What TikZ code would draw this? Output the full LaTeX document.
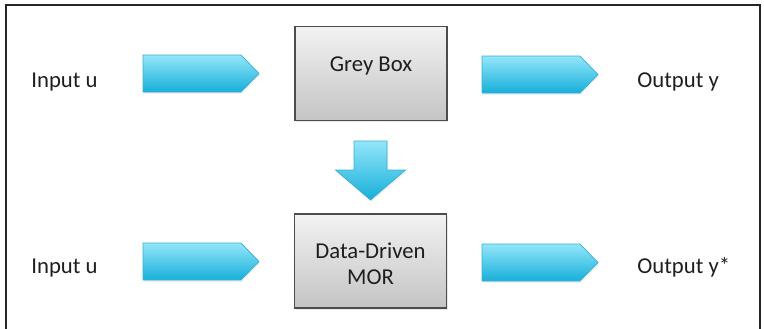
\documentclass[tikz,border=0pt]{standalone}
\usepackage{fontspec}
\setmainfont{Carlito}
\usetikzlibrary{shadows}

\definecolor{flowtop}{HTML}{93E6F9}
\definecolor{flowbot}{HTML}{17AFDA}
\definecolor{flowline}{HTML}{3AAFD2}
\definecolor{boxtop}{HTML}{F2F2F2}
\definecolor{boxbot}{HTML}{C4C4C4}
\definecolor{inkgrey}{HTML}{1E1E1E}

\tikzset{
  frame/.style={draw=black!85, line width=1pt},
  block/.style={draw=black!70, line width=0.55pt, top color=boxtop, bottom color=boxbot,
    minimum width=76pt, minimum height=47pt, inner sep=0pt,
    drop shadow={opacity=0.18, shadow xshift=0.6pt, shadow yshift=-0.8pt}},
  txt/.style={font=\fontsize{11.35}{13}\selectfont, text=inkgrey, inner sep=0pt},
  flow/.style={draw=flowline, line width=0.35pt, top color=flowtop, bottom color=flowbot,
    drop shadow={opacity=0.12, shadow xshift=0.5pt, shadow yshift=-0.9pt}},
  pics/flowright/.style={code={
    \path[flow] (0,-18.5) -- (98,-18.5) -- (116,0) -- (98,18.5) -- (0,18.5) -- cycle;
  }},
  pics/flowdown/.style={code={
    \path[flow] (-16.5,0) -- (16.5,0) -- (16.5,29) -- (35,29) -- (0,59)
      -- (-35,29) -- (-16.5,29) -- cycle;
  }}
}

\begin{document}
\begin{tikzpicture}[x=0.5pt, y=-0.5pt]
  \useasboundingbox (0,0) rectangle (764,328);
  \begin{scope}
    \clip (0,0) rectangle (764,328);
    \draw[frame] (6,340) -- (6,5) -- (760,5) -- (760,340);
  \end{scope}

  % model blocks
  \node[block] (grey) at (371,73.5) {};
  \node[txt, anchor=base] (greytxt) at (371,71) {Grey Box};
  \node[block, minimum height=47pt] (mor) at (370.5,261) {};
  \node[txt, anchor=base, align=center] (mortxt) at (370.5,284)
    {Data-Driven\\MOR};

  % signals
  \node[txt, anchor=base west] (in1) at (31,87) {Input u};
  \node[txt, anchor=base west] (out1) at (637,87) {Output y};
  \node[txt, anchor=base west] (in2) at (31,273) {Input u};
  \node[txt, anchor=base west] (out2) at (637,273) {Output y*};

  % block arrows
  \pic at (143,73.5) {flowright};
  \pic at (482,74.5) {flowright};
  \pic at (143,261.5) {flowright};
  \pic at (482,262.5) {flowright};
  \pic at (370.5,141) {flowdown};
\end{tikzpicture}
\end{document}
